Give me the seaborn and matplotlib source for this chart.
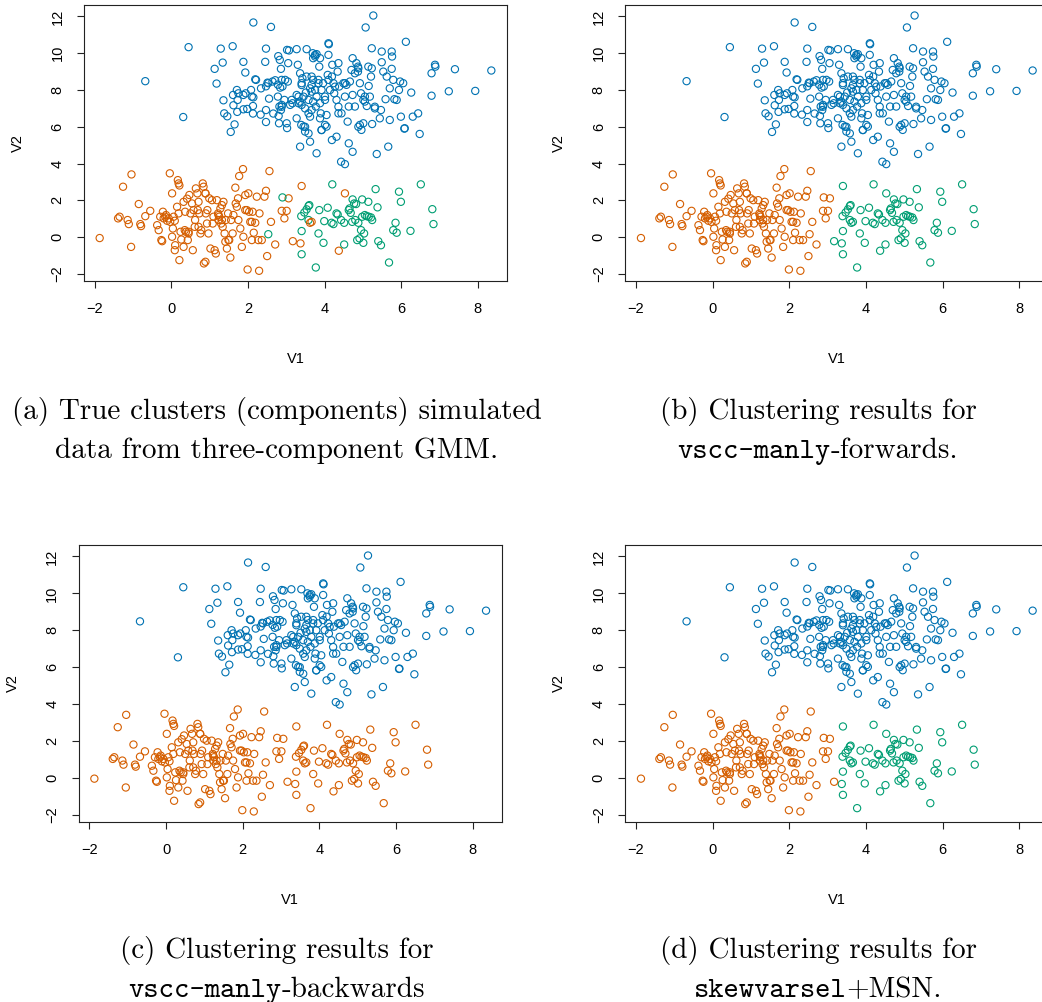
import matplotlib
matplotlib.use("Agg")
import matplotlib.pyplot as plt
import seaborn as sns
import pandas as pd
import numpy as np

# ---------------- data ----------------
blue_x = [-0.68, 0.31, 0.45, 1.13, 1.18, 1.29, 1.34, 1.60, 1.36, 1.38, 1.46, 1.55, 1.65, 1.61, 1.71,
          1.73, 1.62, 1.72, 1.88, 1.94, 1.88, 1.93, 1.88, 1.98, 2.08, 2.14, 2.14, 2.19, 2.21, 2.13,
          2.13, 2.34, 2.33, 2.47, 2.45, 2.47, 2.51, 2.55, 2.47, 2.47, 2.60, 2.64, 2.71, 2.66, 2.79,
          2.83, 2.78, 2.84, 2.88, 2.86, 2.78, 2.90, 2.95, 2.82, 2.86, 2.80, 2.81, 2.88, 3.01, 3.02,
          3.05, 3.04, 3.02, 3.07, 3.14, 3.16, 3.10, 3.27, 3.30, 3.27, 3.32, 3.27, 3.36, 3.36, 3.40,
          3.42, 3.36, 3.40, 3.45, 3.49, 3.39, 3.45, 3.49, 3.53, 3.53, 3.51, 3.58, 3.58, 3.62, 3.58,
          3.62, 3.62, 3.66, 3.69, 3.75, 3.79, 3.70, 3.66, 3.70, 3.75, 3.79, 3.70, 3.77, 3.66, 3.79,
          3.84, 3.86, 3.88, 3.92, 3.88, 3.88, 3.92, 3.90, 3.96, 4.01, 4.05, 4.01, 4.05, 4.10, 4.11,
          4.10, 4.08, 4.10, 4.14, 4.19, 4.20, 4.19, 4.23, 4.25, 4.31, 4.36, 4.34, 4.31, 4.36, 4.38,
          4.43, 4.53, 4.44, 4.49, 4.53, 4.57, 4.60, 4.63, 4.66, 4.63, 4.73, 4.73, 4.70, 4.73, 4.79,
          4.83, 4.87, 4.87, 4.92, 4.96, 5.01, 4.92, 4.95, 5.01, 5.05, 5.10, 5.07, 5.14, 5.15, 5.18,
          5.21, 5.23, 5.27, 5.23, 5.24, 5.31, 5.36, 5.44, 5.47, 5.49, 5.49, 5.53, 5.59, 5.62, 5.66,
          5.70, 5.70, 5.75, 5.76, 5.75, 5.79, 5.82, 5.88, 5.94, 5.97, 5.99, 6.05, 6.08, 6.09, 6.12,
          6.26, 6.30, 6.44, 6.48, 6.79, 6.79, 6.88, 6.89, 7.24, 7.40, 7.93, 8.35,
          3.40, 3.84, 4.27, 3.66, 4.01, 4.53, 4.79, 4.88, 3.32, 2.88, 2.97, 2.53, 2.10, 1.75, 3.75,
          5.05, 5.31, 4.36, 3.49, 3.92, 4.88]
blue_y = [8.48, 6.53, 10.33, 9.15, 8.35, 10.25, 9.49, 10.38, 7.44, 6.73, 6.57, 5.72, 6.13, 7.73, 8.00,
          7.46, 7.17, 6.81, 7.73, 7.82, 9.53, 8.95, 6.95, 6.97, 8.00, 7.60, 11.67, 8.58, 8.55, 7.13,
          6.72, 8.09, 6.66, 10.25, 9.53, 8.20, 8.40, 7.53, 6.91, 6.26, 11.43, 8.46, 8.53, 6.72, 9.84,
          9.64, 8.29, 8.13, 8.55, 9.15, 7.64, 8.19, 7.46, 7.10, 6.91, 6.59, 6.19, 7.19, 6.19, 5.93,
          9.46, 8.46, 10.18, 10.15, 7.46, 7.28, 7.19, 10.22, 9.37, 7.73, 7.64, 6.46, 4.92, 8.91, 8.37,
          8.64, 7.37, 7.19, 7.64, 7.00, 6.10, 6.01, 5.74, 10.22, 8.73, 7.86, 7.46, 5.64, 5.19, 6.73,
          6.55, 8.09, 8.28, 10.00, 9.82, 9.95, 9.73, 8.73, 8.55, 8.00, 7.64, 7.37, 7.10, 6.91, 4.56,
          8.55, 9.27, 9.73, 8.00, 7.28, 6.46, 5.83, 6.73, 8.37, 7.46, 6.64, 6.10, 6.01, 10.54, 10.49,
          9.91, 8.82, 8.55, 8.00, 8.73, 9.37, 5.28, 8.37, 7.82, 5.46, 9.46, 9.00, 7.46, 6.73, 8.19,
          4.10, 3.97, 6.73, 8.37, 7.64, 8.28, 6.28, 5.10, 8.46, 7.10, 9.73, 4.64, 9.09, 7.73, 7.10,
          9.46, 9.27, 9.00, 6.10, 5.83, 6.19, 8.37, 7.82, 7.46, 7.37, 7.13, 11.40, 9.27, 8.22, 7.64,
          8.73, 10.27, 12.05, 9.18, 6.15, 7.00, 4.52, 6.46, 6.91, 10.09, 9.51, 9.00, 7.50, 8.73, 4.92,
          6.37, 8.09, 10.09, 9.82, 9.15, 8.55, 7.50, 7.46, 8.00, 8.46, 6.55, 8.37, 5.90, 5.92, 10.62,
          7.86, 6.55, 6.73, 5.61, 8.91, 7.69, 9.37, 9.27, 7.93, 9.13, 7.95, 9.06,
          8.27, 8.37, 8.18, 7.91, 7.64, 8.37, 8.91, 9.18, 7.28, 7.09, 8.55, 8.37, 7.64, 7.82, 9.91,
          7.64, 7.09, 7.09, 6.00, 5.82, 6.00]

orange_x = [-1.87, -1.39, -1.35, -1.26, -1.14, -1.11, -1.04, -1.05, -0.85, -0.81, -0.79, -0.68, -0.55,
            -0.37, -0.33, -0.29, -0.26, -0.24, -0.22, -0.20, -0.14, -0.11, -0.07, -0.04, -0.03, 0.02,
            0.04, 0.06, 0.09, 0.09, 0.10, 0.15, 0.17, 0.19, 0.21, 0.21, 0.24, 0.26, 0.32, 0.32, 0.35,
            0.36, 0.38, 0.41, 0.43, 0.45, 0.47, 0.50, 0.54, 0.56, 0.58, 0.61, 0.62, 0.64, 0.68, 0.69,
            0.71, 0.73, 0.76, 0.78, 0.82, 0.84, 0.85, 0.89, 0.89, 0.90, 0.93, 0.94, 0.97, 0.99, 1.02,
            1.06, 1.08, 1.10, 1.13, 1.16, 1.19, 1.22, 1.23, 1.25, 1.28, 1.30, 1.32, 1.34, 1.36, 1.39,
            1.41, 1.42, 1.45, 1.48, 1.51, 1.54, 1.56, 1.60, 1.62, 1.67, 1.68, 1.71, 1.74, 1.75, 1.77,
            1.80, 1.84, 1.87, 1.88, 1.93, 1.97, 1.99, 2.01, 2.03, 2.06, 2.10, 2.12, 2.15, 2.19, 2.23,
            2.27, 2.29, 2.30, 2.36, 2.43, 2.47, 2.50, 2.56, 2.60, 2.71, 2.88, 2.95, 3.01, 3.06,
            1.23, 1.32, 0.71, 0.19, -0.16, 1.49, 0.45, 1.93, 2.10, 0.89, 0.02]
orange_y = [-0.05, 1.02, 1.11, 2.74, 0.93, 0.71, 3.41, -0.53, 1.80, 0.71, 0.60, 1.14, 1.43,
            0.65, 0.38, 1.11, -0.16, -0.22, 1.38, 1.02, 1.20, 0.89, 1.02, 3.47, 0.83, 2.38,
            0.47, 1.11, 0.89, -0.71, -0.44, 1.65, 3.10, 2.92, 2.81, -1.25, 0.29, -0.13, 1.92, -0.53, 0.38,
            1.38, 0.29, 2.09, -0.16, 0.20, 2.29, 1.29, 1.83, -0.71, 1.47, 0.56, 0.93, 2.65, 2.38, 1.47,
            1.92, 1.29, 0.20, 0.38, 2.92, 2.74, -1.43, -1.34, 2.38, 1.29, 0.74, 1.47, 0.20, 2.11, -0.62,
            2.01, 0.74, 1.11, -0.71, -0.89, 2.01, 1.29, 0.93, 1.11, 1.56, 0.74, 1.74, 0.56, 1.92, 0.20,
            -0.25, 0.93, -0.62, 1.29, -0.16, -1.11, 0.93, 0.20, 1.20, 2.69, 1.83, 1.65, 2.11, 0.93, 3.32,
            0.47, -0.53, 3.70, 0.02, 2.29, 1.47, -1.76, 2.38, 1.38, 0.83, -0.16, 1.38, 0.24, 0.78, 2.20,
            -0.16, -1.83, 1.29, -0.16, 2.20, 2.52, -1.03, 3.59, 0.83, -0.40, 1.43, 1.02, 1.43, 2.11,
            1.20, 0.93, 0.56, 1.29, 1.11, -0.16, 0.29, 1.47, 0.83, 2.38, 0.02]

green_x = [3.40, 3.40, 3.39, 3.47, 3.53, 3.58, 3.60, 3.58, 3.77, 3.84, 3.86, 3.97, 3.99, 4.08, 4.18,
           4.20, 4.23, 4.31, 4.34, 4.43, 4.51, 4.51, 4.63, 4.65, 4.68, 4.72, 4.73, 4.77, 4.80, 4.82,
           4.85, 4.88, 4.91, 4.95, 4.98, 4.98, 5.01, 5.03, 5.05, 5.10, 5.14, 5.15, 5.21, 5.24, 5.33,
           5.38, 5.40, 5.47, 5.68, 5.79, 5.85, 5.88, 5.94, 5.99, 6.24, 6.51, 6.81, 6.84]
green_y = [0.33, -0.93, 1.14, 1.34, 1.51, 1.69, 1.74, 0.93, -1.65, 0.20, 1.47, -0.31, 0.87, 1.60, 0.78,
           2.87, 0.71, 1.29, 1.23, 0.93, 0.78, -0.40, 1.47, 1.56, 1.32, 0.83, 2.05, 1.83, 0.93, 1.80,
           -0.16, 0.78, -0.07, 0.38, 2.05, 1.11, -0.31, 0.20, 1.20, 1.14, 1.92, 1.11, 1.07, 0.93, 2.61,
           1.62, -0.22, -0.44, -1.38, 0.38, 0.78, 0.24, 2.47, 1.92, 0.34, 2.87, 1.52, 0.71]

# true orange, clustered as green by both forward methods
swapA_x = [3.40, 4.53, 3.62, 3.66, 3.37, 4.37]
swapA_y = [2.78, 2.38, 0.78, 0.83, -0.34, -0.74]
# true green, clustered as orange
swapB_x = [2.90, 2.53]
swapB_y = [2.16, 0.16]
# true orange, green only in vscc-manly-forwards
swapC_x = [3.17]
swapC_y = [-0.22]

groups = ["blue", "orange", "green", "A", "B", "C"]
panel_colors = {
    "a": {"blue": "c1", "orange": "c2", "green": "c3", "A": "c2", "B": "c3", "C": "c2"},
    "b": {"blue": "c1", "orange": "c2", "green": "c3", "A": "c3", "B": "c2", "C": "c3"},
    "c": {"blue": "c1", "orange": "c2", "green": "c2", "A": "c2", "B": "c2", "C": "c2"},
    "d": {"blue": "c1", "orange": "c2", "green": "c3", "A": "c3", "B": "c2", "C": "c2"},
}
palette = {"c1": "#0072B2", "c2": "#D55E00", "c3": "#009E73"}

captions = {
    "a": [[("(a) True clusters (components) simulated", "cmr10")],
          [("data from three-component GMM.", "cmr10")]],
    "b": [[("(b) Clustering results for", "cmr10")],
          [("vscc-manly", "cmtt10"), ("-forwards.", "cmr10")]],
    "c": [[("(c) Clustering results for", "cmr10")],
          [("vscc-manly", "cmtt10"), ("-backwards", "cmr10")]],
    "d": [[("(d) Clustering results for", "cmr10")],
          [("skewvarsel", "cmtt10"), ("+MSN.", "cmr10")]],
}

# ---------------- build table ----------------
xs = {"blue": blue_x, "orange": orange_x, "green": green_x, "A": swapA_x, "B": swapB_x, "C": swapC_x}
ys = {"blue": blue_y, "orange": orange_y, "green": green_y, "A": swapA_y, "B": swapB_y, "C": swapC_y}
rows = []
for g in groups:
    for x, y in zip(xs[g], ys[g]):
        rows.append((x, y, g))
df = pd.DataFrame(rows, columns=["V1", "V2", "group"])

W, H = 1042, 1002
fig = plt.figure(figsize=(W / 100, H / 100), dpi=100)

# axes boxes in pixels: left, top, width, height
boxes = {"a": (84, 5.3, 423, 275.7), "b": (625.3, 5.3, 423, 275.7),
         "c": (78.7, 545.3, 423, 276.4), "d": (625.3, 545.3, 423, 276.4)}

xr = (df.V1.min(), df.V1.max())
yr = (df.V2.min(), df.V2.max())
xpad = 0.04 * (xr[1] - xr[0])
ypad = 0.04 * (yr[1] - yr[0])

tickfont = "Liberation Sans"
fs = 10.5
for key, (l, t, w, h) in boxes.items():
    ax = fig.add_axes([l / W, 1 - (t + h) / H, w / W, h / H])
    d = df.copy()
    d["col"] = d["group"].map(panel_colors[key])
    sns.scatterplot(data=d, x="V1", y="V2", hue="col", palette=palette, ax=ax,
                    legend=False, s=27, marker="o", linewidth=0.8)
    coll = ax.collections[-1]
    coll.set_edgecolors(coll.get_facecolors())
    coll.set_facecolors("none")
    ax.set_xlim(xr[0] - xpad, xr[1] + xpad)
    ax.set_ylim(yr[0] - ypad, yr[1] + ypad)
    ax.set_xticks([-2, 0, 2, 4, 6, 8])
    ax.set_yticks([-2, 0, 2, 4, 6, 8, 10, 12])
    for sp in ax.spines.values():
        sp.set_linewidth(0.8)
        sp.set_color("#222222")
    ax.tick_params(axis="both", direction="out", length=5, width=0.8, color="#222222",
                   labelsize=fs)
    ax.tick_params(axis="x", pad=10)
    ax.tick_params(axis="y", pad=9, labelrotation=90)
    for lab in ax.get_yticklabels():
        lab.set_va("center")
        lab.set_family(tickfont)
    for lab in ax.get_xticklabels():
        lab.set_family(tickfont)
    ax.set_xlabel("V1", fontsize=fs, family=tickfont, va="center")
    ax.set_ylabel("V2", fontsize=fs, family=tickfont, va="center")
    ax.xaxis.set_label_coords(0.5, -78 / h)
    ax.yaxis.set_label_coords(-66 / w, 0.5)

# ---------------- captions ----------------
renderer = fig.canvas.get_renderer()
cap_fs = 21
centers = {"a": (277, 419, 458), "b": (818, 419, 458), "c": (277, 958, 997), "d": (818, 958, 997)}


def draw_line(parts, xc, ybase):
    texts = []
    for s, fam in parts:
        texts.append(fig.text(0, 1 - ybase / H, s, family=fam, fontsize=cap_fs,
                              ha="left", va="baseline"))
    widths = [tt.get_window_extent(renderer=renderer).width for tt in texts]
    x = xc - sum(widths) / 2
    for tt, wd in zip(texts, widths):
        tt.set_x(x / W)
        x += wd


for key, (xc, y1, y2) in centers.items():
    draw_line(captions[key][0], xc, y1)
    draw_line(captions[key][1], xc, y2)

fig.savefig("out.png", dpi=100)
